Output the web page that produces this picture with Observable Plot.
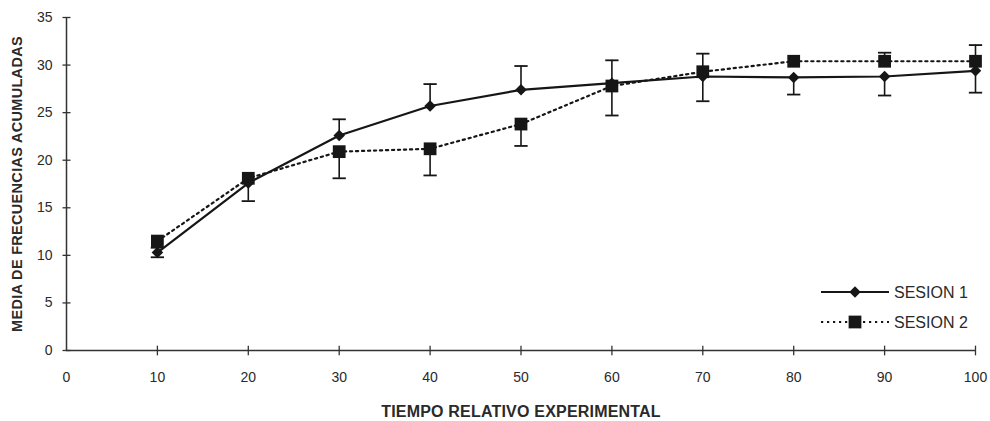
<!DOCTYPE html>
<html>
<head>
<meta charset="utf-8">
<script src="https://cdn.jsdelivr.net/npm/d3@7"></script>
<script src="https://cdn.jsdelivr.net/npm/@observablehq/plot@0.6"></script>
<style>
  html, body { margin: 0; padding: 0; background: #fff; }
  #wrap { position: relative; width: 990px; height: 421px; font-family: "Liberation Sans", Arial, sans-serif; }
  #wrap svg { display: block; }
  g[aria-label="x-axis label"] text { font-weight: bold; font-size: 16px; letter-spacing: 0.2px; }
  g[aria-label="y-axis label"] text { font-weight: bold; font-size: 14.5px; letter-spacing: 0.3px; }
  #legend { position: absolute; left: 0; top: 0; pointer-events: none; }
</style>
</head>
<body>
<div id="wrap"></div>
<script>
// ---- data ----
const tiempo    = [10, 20, 30, 40, 50, 60, 70, 80, 90, 100];
const sesion1   = [10.3, 17.6, 22.6, 25.7, 27.4, 28.1, 28.8, 28.7, 28.8, 29.4];
const sesion2   = [11.5, 18.1, 20.9, 21.2, 23.8, 27.8, 29.3, 30.4, 30.4, 30.4];
const sesion1Lo = [9.8, 15.7, 22.6, 25.7, 27.4, 24.7, 26.2, 26.9, 26.8, 27.1];
const sesion1Hi = [10.8, 17.6, 24.3, 28.0, 29.9, 30.5, 28.8, 28.7, 28.8, 29.4];
const sesion2Lo = [11.5, 18.1, 18.1, 18.4, 21.5, 27.8, 29.3, 30.4, 30.4, 30.4];
const sesion2Hi = [11.5, 18.1, 20.9, 21.2, 23.8, 27.8, 31.2, 30.4, 31.3, 32.1];
const seriesNames = ["SESION 1", "SESION 2"];
const xTicks = [0, 10, 20, 30, 40, 50, 60, 70, 80, 90, 100];
const yTicks = [0, 5, 10, 15, 20, 25, 30, 35];
const xLabel = "TIEMPO RELATIVO EXPERIMENTAL";
const yLabel = "MEDIA DE FRECUENCIAS ACUMULADAS";

const rows1 = tiempo.map((t, i) => ({x: t, y: sesion1[i], lo: sesion1Lo[i], hi: sesion1Hi[i], s: seriesNames[0]}));
const rows2 = tiempo.map((t, i) => ({x: t, y: sesion2[i], lo: sesion2Lo[i], hi: sesion2Hi[i], s: seriesNames[1]}));
const allRows = rows1.concat(rows2);

const ink = "#161616";
const textInk = "#2a2a2a";
const hCap = {draw(ctx, size) { const w = Math.sqrt(size); ctx.moveTo(-w / 2, 0); ctx.lineTo(w / 2, 0); }};
const xCross = {draw(ctx, size) { const w = Math.sqrt(size); ctx.moveTo(0, -w / 2); ctx.lineTo(0, w / 2); }};

const chart = Plot.plot({
  width: 990,
  height: 421,
  marginLeft: 66,
  marginRight: 15,
  marginTop: 17,
  marginBottom: 71,
  style: {fontFamily: "'Liberation Sans', Arial, sans-serif", fontSize: "14px", color: textInk, background: "transparent"},
  x: {domain: [0, 100]},
  y: {domain: [0, 35]},
  marks: [
    // axis lines
    Plot.ruleX([0], {stroke: "#333", strokeWidth: 1.5}),
    Plot.ruleY([0], {stroke: "#333", strokeWidth: 1.5}),
    // crossing ticks
    Plot.dot(yTicks, {x: 0, y: d => d, symbol: hCap, r: 4.5, stroke: "#333", strokeWidth: 1.3, fill: "none"}),
    Plot.dot(xTicks.filter(d => d > 0), {x: d => d, y: 0, symbol: xCross, r: 5.5, stroke: "#333", strokeWidth: 1.3, fill: "none"}),
    // axes (labels only)
    Plot.axisY({ticks: yTicks, tickSize: 0, tickPadding: 14, label: yLabel, labelAnchor: "center", labelOffset: 55, labelArrow: "none"}),
    Plot.axisX({ticks: xTicks, tickSize: 0, tickPadding: 22, label: xLabel, labelAnchor: "center", labelOffset: 66, labelArrow: "none"}),
    // error bars
    Plot.ruleX(allRows, {x: "x", y1: "lo", y2: "hi", stroke: ink, strokeWidth: 1.6}),
    Plot.dot(allRows.filter(d => d.lo < d.y), {x: "x", y: "lo", symbol: hCap, r: 7.5, stroke: ink, strokeWidth: 1.8, fill: "none"}),
    Plot.dot(allRows.filter(d => d.hi > d.y), {x: "x", y: "hi", symbol: hCap, r: 7.5, stroke: ink, strokeWidth: 1.8, fill: "none"}),
    // lines
    Plot.line(rows2, {x: "x", y: "y", stroke: ink, strokeWidth: 2.2, strokeDasharray: "2.2,3.8"}),
    Plot.line(rows1, {x: "x", y: "y", stroke: ink, strokeWidth: 2.2}),
    // markers
    Plot.dot(rows2, {x: "x", y: "y", symbol: "square", r: 7.2, fill: ink, stroke: "none"}),
    Plot.dot(rows1, {x: "x", y: "y", symbol: "diamond2", r: 5.2, fill: ink, stroke: "none"})
  ]
});

const wrap = document.getElementById("wrap");
wrap.appendChild(chart);

// legend overlay
const leg = d3.select(wrap).append("svg").attr("id", "legend").attr("width", 990).attr("height", 421);
const legItems = [
  {name: seriesNames[0], dash: null, sym: d3.symbolDiamond2, size: Math.PI * 5.2 * 5.2, cy: 292},
  {name: seriesNames[1], dash: "2.2,3.8", sym: d3.symbolSquare, size: Math.PI * 7.2 * 7.2, cy: 322}
];
legItems.forEach(it => {
  const g = leg.append("g");
  g.append("line").attr("x1", 821).attr("x2", 889).attr("y1", it.cy).attr("y2", it.cy)
    .attr("stroke", ink).attr("stroke-width", 2.2).attr("stroke-dasharray", it.dash);
  g.append("path").attr("d", d3.symbol(it.sym, it.size)()).attr("transform", `translate(855,${it.cy})`).attr("fill", ink);
  g.append("text").attr("x", 894).attr("y", it.cy).attr("dy", "0.35em")
    .attr("font-family", "'Liberation Sans', Arial, sans-serif").attr("font-size", 16).attr("fill", textInk).text(it.name);
});
</script>
</body>
</html>
